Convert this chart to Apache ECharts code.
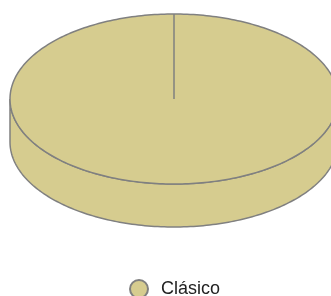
<!DOCTYPE html>
<html>
<head>
<meta charset="utf-8">
<script src="https://cdn.jsdelivr.net/npm/echarts@6/dist/echarts.min.js"></script>
<style>
  html, body { margin: 0; padding: 0; background: #fff; }
  #chart { width: 331px; height: 296px; }
</style>
</head>
<body>
<div id="chart"></div>
<script>
// data
const categories = ["Clásico"];
const values = [100];
const colors = ["#d6cc8f"];

// 3d pie geometry
const cx = 174, cy = 99, rx = 164, ry = 85, depth = 43;
const edgeColor = "#808080";

const total = values.reduce((a, b) => a + b, 0);
const starts = [], ends = [];
let acc = 0;
values.forEach((v) => {
  starts.push((acc / total) * Math.PI * 2);
  acc += v;
  ends.push((acc / total) * Math.PI * 2);
});

// angle t measured clockwise from 12 o'clock
function pt(t, dy) {
  return [cx + rx * Math.sin(t), cy - ry * Math.cos(t) + dy];
}

function arcPoints(a, b, dy, reverse) {
  const n = Math.max(2, Math.ceil((b - a) / 0.02));
  const pts = [];
  for (let k = 0; k <= n; k++) {
    const t = reverse ? b - (b - a) * k / n : a + (b - a) * k / n;
    pts.push(pt(t, dy));
  }
  return pts;
}

function renderSlice(i) {
  return function (params, api) {
    const a0 = starts[i], a1 = ends[i];
    const style = { fill: colors[i], stroke: edgeColor, lineWidth: 1.5 };
    const children = [];
    // front wall, visible between 3 and 9 o'clock
    const s = Math.max(a0, Math.PI / 2), e = Math.min(a1, Math.PI * 1.5);
    if (e > s) {
      const wall = arcPoints(s, e, 0, false).concat(arcPoints(s, e, depth, true));
      children.push({ type: "polygon", shape: { points: wall }, style: style });
    }
    const top = [[cx, cy]].concat(arcPoints(a0, a1, 0, false));
    children.push({ type: "polygon", shape: { points: top }, style: style });
    return { type: "group", children: children };
  };
}

const chart = echarts.init(document.getElementById("chart"));
chart.setOption({
  animation: false,
  legend: {
    data: categories,
    left: 129,
    top: 279,
    padding: 0,
    icon: "circle",
    itemWidth: 18,
    itemHeight: 18,
    textStyle: {
      fontFamily: "Liberation Sans",
      fontSize: 18,
      color: "#222",
      padding: [0, 0, 0, 8]
    }
  },
  series: categories.map((name, i) => ({
    type: "custom",
    name: name,
    coordinateSystem: "none",
    itemStyle: { color: colors[i], borderColor: edgeColor, borderWidth: 1 },
    renderItem: renderSlice(i),
    data: [[values[i]]]
  }))
});
</script>
</body>
</html>
